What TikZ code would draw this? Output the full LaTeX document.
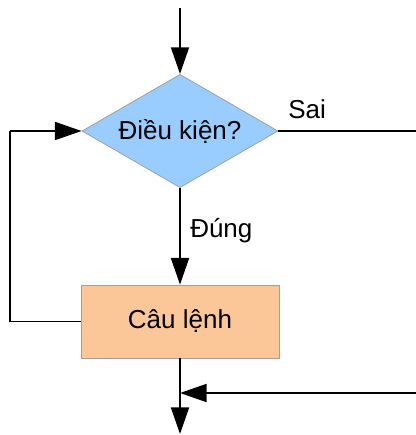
\documentclass[tikz,border=0pt]{standalone}
\usepackage{fontspec}
\setmainfont{Liberation Sans}
\usetikzlibrary{shapes.geometric,arrows.meta}
\definecolor{dblue}{RGB}{153,204,255}
\definecolor{borange}{RGB}{251,198,152}
\definecolor{edgegray}{RGB}{160,160,160}
\begin{document}
\begin{tikzpicture}[x=0.75pt,y=-0.75pt,
  lbl/.style={font=\fontsize{19.5}{22}\selectfont, inner sep=0pt},
  cond/.style={diamond, draw=edgegray, fill=dblue, line width=0.6pt, aspect=1.73,
    minimum width=147pt, minimum height=85pt, inner sep=0pt,
    font=\fontsize{19.5}{22}\selectfont},
  stmt/.style={rectangle, draw=edgegray, fill=borange, line width=0.6pt,
    minimum width=148.5pt, minimum height=54.75pt, inner sep=0pt,
    font=\fontsize{19.5}{22}\selectfont},
  flow/.style={line width=1.4pt, -{Triangle[length=20pt,width=13.5pt]}},
  plain/.style={line width=1.4pt, line join=miter}]
\useasboundingbox (0,0) rectangle (416,435);
\node[cond] (c) at (180,131) {Điều kiện?};
\node[stmt] (s) at (180,321.5) {Câu lệnh};
\coordinate (top) at (180,8);
\coordinate (lt) at (10,131);
\coordinate (rt) at (418,131);
\coordinate (rb) at (418,393);
\coordinate (j) at (180,393);
\coordinate (end) at (180,434);
\draw[flow] (top) -- (c.north);
\draw[flow] (c.south) -- (s.north);
\draw[plain] (s.west) -| (lt);
\draw[flow] (lt) -- (c.west);
\draw[plain] (c.east) -- (rt) -- (rb);
\draw[flow] (rb) -- (j);
\draw[flow] (s.south) -- (end);
\node[lbl, anchor=base west] (sai) at (288,118) {Sai};
\node[lbl, anchor=base west] (dung) at (190,237) {Đúng};
\end{tikzpicture}
\end{document}
